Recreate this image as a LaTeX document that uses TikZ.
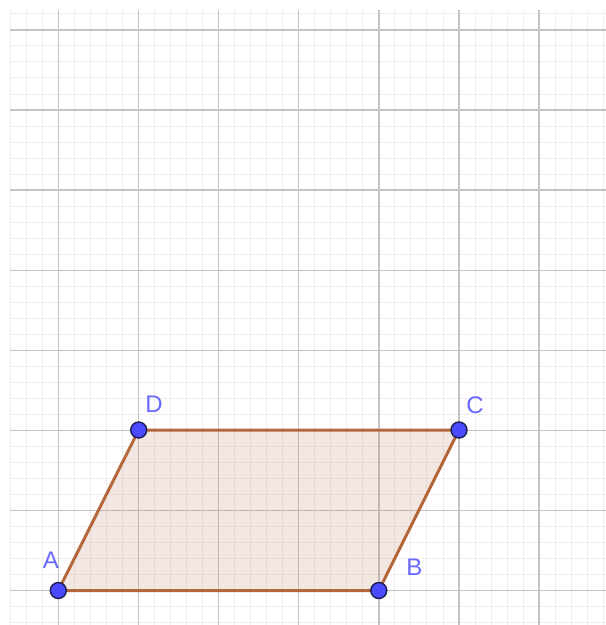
\documentclass[tikz,border=0pt]{standalone}
\usepackage{fontspec}
\setmainfont{Liberation Sans}
\definecolor{minorgrid}{HTML}{EEEEEE}
\definecolor{majorgrid}{HTML}{C4C4C4}
\definecolor{polyedge}{HTML}{B4673C}
\definecolor{ptfill}{HTML}{4A4AFF}
\definecolor{ptedge}{HTML}{1E1E50}
\definecolor{lblcol}{HTML}{6A6AFF}
\tikzset{
  minorline/.style={draw=minorgrid, line width=1pt},
  majorline/.style={draw=majorgrid, line width=1.4pt},
  edge/.style={draw=polyedge, line width=3pt, line join=round},
  ptnode/.style={circle, fill=ptfill, draw=ptedge, line width=1.4pt, minimum size=16pt, inner sep=0pt},
  lbl/.style={text=lblcol, font=\fontsize{24}{28}\selectfont, inner sep=0pt}
}
\begin{document}
\begin{tikzpicture}[x=1pt,y=-1pt]
\useasboundingbox (0,0) rectangle (606,625);
\fill[white] (0,0) rectangle (606,625);
\begin{scope}
\clip (10,10) rectangle (606,625);
\foreach \k in {0,...,37} {
  \draw[minorline] ({10.2+16.03*\k},10) -- ({10.2+16.03*\k},625);
}
\foreach \k in {0,...,38} {
  \draw[minorline] (10,{13.9+16.02*\k}) -- (606,{13.9+16.02*\k});
}
\foreach \k in {3,8,...,33} {
  \draw[majorline] ({10.2+16.03*\k},10) -- ({10.2+16.03*\k},625);
}
\foreach \k in {1,6,...,36} {
  \draw[majorline] (10,{13.9+16.02*\k}) -- (606,{13.9+16.02*\k});
}
\end{scope}
\coordinate (A) at (58.3,590.5);
\coordinate (B) at (378.8,590.5);
\coordinate (C) at (459,430);
\coordinate (D) at (138.7,430);
\fill[polyedge, fill opacity=0.15] (A) -- (B) -- (C) -- (D) -- cycle;
\draw[edge] (A) -- (B) -- (C) -- (D) -- cycle;
\node[ptnode] (pA) at (A) {};
\node[ptnode] (pB) at (B) {};
\node[ptnode] (pC) at (C) {};
\node[ptnode] (pD) at (D) {};
\node[lbl] (lA) at (51,560.5) {A};
\node[lbl] (lB) at (414.5,567.5) {B};
\node[lbl] (lC) at (475,405.5) {C};
\node[lbl] (lD) at (154,404) {D};
\end{tikzpicture}
\end{document}
